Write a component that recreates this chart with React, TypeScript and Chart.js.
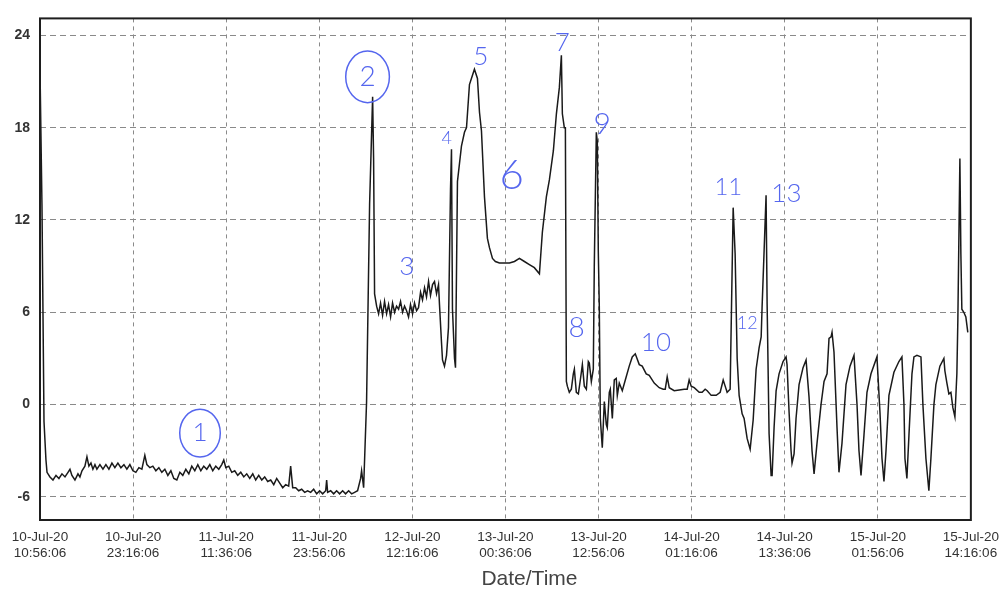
import React, { useEffect, useRef } from "react";
import { Chart, registerables } from "chart.js";

Chart.register(...registerables);

// Sample times (hours after 10-Jul-20 10:56:06) and readings
const hours = [
  0.0, 0.26, 0.53, 0.79, 0.93, 1.32, 1.72, 2.12, 2.51, 2.91, 3.31, 3.71, 3.97, 4.23, 4.63, 5.03, 5.29, 5.56, 5.95, 6.22,
  6.48, 6.75, 7.01, 7.28, 7.54, 7.94, 8.34, 8.73, 9.13, 9.53, 9.92, 10.32, 10.72, 11.12, 11.51, 11.91, 12.31, 12.7, 13.1, 13.5,
  13.89, 14.16, 14.56, 14.95, 15.35, 15.75, 16.14, 16.54, 16.94, 17.34, 17.73, 18.13, 18.53, 18.92, 19.32, 19.72, 20.11, 20.51, 20.91, 21.31,
  21.7, 22.1, 22.5, 22.89, 23.29, 23.69, 24.08, 24.35, 24.62, 25.01, 25.41, 25.8, 26.2, 26.6, 27.0, 27.39, 27.79, 28.19, 28.58, 28.98,
  29.38, 29.77, 30.17, 30.57, 30.97, 31.36, 31.76, 32.16, 32.55, 32.95, 33.21, 33.48, 33.88, 34.27, 34.67, 35.07, 35.46, 35.86, 36.26, 36.66,
  37.05, 37.45, 37.85, 37.98, 38.11, 38.51, 38.91, 39.3, 39.7, 40.1, 40.49, 40.89, 41.29, 41.68, 42.08, 42.48, 42.61, 42.88, 43.27, 43.67,
  44.07, 44.2, 44.33, 44.6, 44.86, 45.12, 45.39, 45.65, 45.92, 46.18, 46.45, 46.71, 46.98, 47.24, 47.51, 47.77, 48.04, 48.3, 48.57, 48.83,
  49.09, 49.36, 49.62, 49.89, 50.15, 50.42, 50.68, 50.95, 51.21, 51.48, 51.74, 52.01, 52.27, 52.54, 52.8, 52.93, 53.2, 53.33, 53.59, 53.86,
  54.12, 54.39, 54.52, 54.65, 54.92, 55.05, 55.31, 55.84, 56.24, 56.51, 56.9, 57.3, 57.56, 57.96, 58.23, 58.49, 58.89, 59.28, 59.55, 59.95,
  60.34, 60.87, 61.53, 62.2, 62.86, 63.52, 64.18, 64.84, 65.5, 66.17, 66.56, 67.09, 67.49, 68.02, 68.42, 68.81, 69.08, 69.21, 69.47, 69.61,
  69.74, 69.87, 70.13, 70.4, 70.66, 70.8, 71.06, 71.33, 71.59, 71.86, 72.12, 72.39, 72.65, 72.78, 73.05, 73.31, 73.44, 73.71, 73.84, 73.97,
  74.1, 74.24, 74.5, 74.77, 75.03, 75.16, 75.43, 75.56, 75.83, 76.09, 76.35, 76.49, 76.75, 77.15, 77.55, 78.07, 78.47, 78.87, 79.4, 79.79,
  80.32, 80.72, 81.38, 82.04, 82.57, 82.84, 83.1, 83.37, 84.03, 84.69, 85.35, 85.75, 86.01, 86.28, 86.68, 87.34, 87.73, 88.13, 88.4, 88.93,
  89.59, 90.12, 90.52, 90.78, 91.04, 91.44, 91.84, 92.1, 92.37, 92.63, 93.03, 93.29, 93.69, 94.09, 94.49, 94.88, 95.28, 95.55, 95.67, 95.94,
  96.2, 96.34, 96.6, 96.87, 97.0, 97.26, 97.53, 97.92, 98.45, 98.85, 98.98, 99.25, 99.51, 99.64, 99.91, 100.17, 100.57, 101.1, 101.5, 101.89,
  102.29, 102.56, 102.95, 103.48, 103.88, 104.28, 104.54, 104.81, 104.94, 105.2, 105.6, 105.86, 106.26, 106.79, 107.32, 107.85, 108.25, 108.51, 108.78, 109.17,
  109.57, 110.1, 110.89, 111.29, 111.56, 111.82, 112.09, 112.48, 113.14, 113.8, 114.2, 114.47, 114.6, 114.86, 115.13, 115.53, 115.79, 116.19, 116.72, 116.98,
  117.38, 117.77, 118.04, 118.44, 118.7, 119.23, 119.76, 119.89, 120.16, 120.42, 120.69, 120.95, 121.22, 121.48, 121.61, 121.88, 122.01, 122.14, 122.4, 122.67,
  122.93,
];

const values = [
  21.8, 13.0, -1.1, -3.6, -4.4, -4.7, -4.9, -4.6, -4.8, -4.5, -4.7, -4.4, -4.2, -4.6, -4.9, -4.5, -4.7, -4.3, -4.0, -3.4,
  -4.0, -3.8, -4.2, -3.9, -4.2, -3.9, -4.2, -3.9, -4.2, -3.8, -4.1, -3.8, -4.1, -3.9, -4.2, -3.9, -4.3, -4.4, -4.1, -4.2,
  -3.3, -3.9, -4.1, -4.0, -4.3, -4.1, -4.4, -4.2, -4.6, -4.3, -4.8, -4.9, -4.4, -4.6, -4.2, -4.5, -4.0, -4.3, -3.9, -4.3,
  -4.0, -4.2, -3.9, -4.3, -4.0, -4.2, -3.9, -3.6, -4.1, -4.0, -4.4, -4.3, -4.6, -4.4, -4.7, -4.5, -4.8, -4.5, -4.9, -4.6,
  -4.9, -4.7, -5.0, -4.9, -5.2, -4.8, -5.1, -5.4, -5.2, -5.3, -4.0, -5.4, -5.4, -5.6, -5.5, -5.7, -5.6, -5.7, -5.5, -5.8,
  -5.6, -5.8, -5.6, -4.9, -5.7, -5.6, -5.8, -5.6, -5.8, -5.6, -5.8, -5.6, -5.8, -5.7, -5.6, -4.8, -4.3, -5.4, 0.2, 13.0,
  20.0, 16.0, 7.2, 6.4, 5.9, 6.6, 5.8, 6.7, 5.9, 6.5, 5.7, 6.6, 6.0, 6.4, 6.2, 6.7, 6.0, 6.4, 6.1, 5.7,
  6.5, 5.9, 6.6, 6.1, 6.3, 7.3, 6.8, 7.6, 7.0, 8.0, 7.1, 7.8, 8.0, 7.2, 7.8, 6.5, 4.0, 2.9, 2.5, 3.2,
  5.0, 14.0, 16.6, 6.2, 3.0, 2.4, 14.5, 16.8, 17.7, 18.0, 20.8, 21.4, 21.8, 21.2, 19.0, 17.8, 13.5, 10.8, 10.2, 9.5,
  9.3, 9.2, 9.2, 9.2, 9.3, 9.5, 9.3, 9.1, 8.9, 8.5, 11.2, 13.5, 14.6, 16.5, 18.9, 20.6, 22.7, 18.9, 18.0, 18.0,
  1.5, 1.2, 0.8, 1.0, 2.0, 2.3, 0.8, 0.7, 1.6, 2.6, 1.2, 1.0, 2.8, 2.7, 1.5, 2.3, 9.0, 17.7, 17.1, 10.0,
  6.5, -0.9, -2.8, 0.2, -1.3, -1.5, 0.8, 1.0, -0.9, 1.6, 1.7, 0.6, 1.4, 0.9, 1.6, 2.5, 3.1, 3.3, 2.6, 2.5,
  2.0, 1.9, 1.4, 1.1, 1.0, 1.0, 1.8, 1.1, 0.9, 0.95, 1.0, 1.0, 1.6, 1.2, 1.1, 0.8, 0.8, 1.0, 0.9, 0.6,
  0.6, 0.8, 1.6, 1.2, 0.8, 1.0, 12.8, 9.8, 3.0, 0.6, -0.6, -0.9, -2.2, -2.9, -1.0, 2.3, 3.7, 4.4, 6.3, 10.0,
  13.6, 6.5, -1.9, -4.6, -4.6, -1.5, 0.9, 2.0, 2.8, 3.1, 2.6, -0.5, -3.0, -3.8, -3.2, -0.9, 1.3, 2.4, 2.9, 0.5,
  -3.0, -4.5, -2.5, 0.0, 1.5, 2.0, 4.3, 4.4, 4.7, 3.4, -1.5, -4.4, -2.5, 1.3, 2.5, 3.2, 0.0, -3.0, -4.6, -2.0,
  0.8, 2.0, 3.1, -0.5, -3.5, -5.0, -3.0, 0.6, 2.1, 2.8, 3.1, 0.0, -3.5, -4.8, -2.0, 2.0, 3.1, 3.2, 3.1, 0.0,
  -3.5, -5.6, -3.5, 0.0, 1.3, 2.5, 3.0, 2.2, 1.4, 0.7, 0.8, -0.2, -0.8, 2.0, 5.5, 16.0, 9.8, 6.2, 6.0, 5.7,
  4.7,
];

// Axis tick labels
const tickDates = ["10-Jul-20", "10-Jul-20", "11-Jul-20", "11-Jul-20", "12-Jul-20", "13-Jul-20", "13-Jul-20", "14-Jul-20", "14-Jul-20", "15-Jul-20", "15-Jul-20"];
const tickTimes = ["10:56:06", "23:16:06", "11:36:06", "23:56:06", "12:16:06", "00:36:06", "12:56:06", "01:16:06", "13:36:06", "01:56:06", "14:16:06"];
const TICK_STEP_HOURS = 12 + 20 / 60;
const yTickValues = [-6, 0, 6, 12, 18, 24];
const X_TITLE = "Date/Time";

// Handwritten notes (blue) placed at data positions
const noteLabels = ["1", "2", "3", "4", "5", "6", "7", "8", "9", "10", "11", "12", "13"];
const noteHours = [21.2, 43.4, 48.6, 53.9, 58.4, 62.5, 69.2, 71.1, 74.5, 81.6, 91.2, 93.7, 98.9];
const noteValues = [-1.85, 21.3, 9.0, 17.3, 22.6, 14.9, 23.5, 5.0, 18.2, 4.0, 14.1, 5.3, 13.7];
const noteSizes = [26, 28, 26, 18, 26, 42, 26, 28, 30, 26, 24, 18, 26];
const noteCircled = [true, true, false, false, false, false, false, false, false, false, false, false, false];

const FONT = "'Liberation Sans', Arial, sans-serif";

export default function App() {
  const canvasRef = useRef<HTMLCanvasElement | null>(null);

  useEffect(() => {
    document.body.style.margin = "0";
    const canvas = canvasRef.current;
    if (!canvas) return;

    const framePlugin = {
      id: "frame",
      afterDatasetsDraw(chart: any) {
        const { ctx, chartArea } = chart;
        ctx.save();
        ctx.strokeStyle = "#1e1e1e";
        ctx.lineWidth = 2;
        ctx.strokeRect(chartArea.left, chartArea.top, chartArea.right - chartArea.left, chartArea.bottom - chartArea.top);
        ctx.restore();
      },
    };

    const titlePlugin = {
      id: "xtitle",
      afterDraw(chart: any) {
        const { ctx, chartArea } = chart;
        ctx.save();
        ctx.fillStyle = "#444";
        ctx.font = `21px ${FONT}`;
        ctx.textAlign = "center";
        ctx.textBaseline = "middle";
        ctx.fillText(X_TITLE, (chartArea.left + chartArea.right) / 2 + 24, chart.height - 13);
        ctx.restore();
      },
    };

    const notesPlugin = {
      id: "notes",
      afterDraw(chart: any) {
        const { ctx } = chart;
        const xs = chart.scales.x;
        const ys = chart.scales.y;
        ctx.save();
        ctx.fillStyle = "#5566ee";
        ctx.strokeStyle = "#5566ee";
        ctx.textAlign = "center";
        ctx.textBaseline = "middle";
        noteLabels.forEach((t, i) => {
          const px = xs.getPixelForValue(noteHours[i]);
          const py = ys.getPixelForValue(noteValues[i]);
          ctx.font = `300 ${noteSizes[i]}px Lato, "DejaVu Sans", sans-serif`;
          ctx.fillText(t, px, py);
          if (noteCircled[i]) {
            ctx.lineWidth = 1.5;
            ctx.beginPath();
            ctx.ellipse(px, py, noteSizes[i] * 0.78, noteSizes[i] * 0.92, 0, 0, Math.PI * 2);
            ctx.stroke();
          }
        });
        ctx.restore();
      },
    };

    const chart = new Chart(canvas, {
      type: "line",
      data: {
        datasets: [
          {
            data: hours.map((h, i) => ({ x: h, y: values[i] })),
            borderColor: "#1a1a1a",
            borderWidth: 1.5,
            pointRadius: 0,
            tension: 0,
            fill: false,
          },
        ],
      },
      options: {
        animation: false,
        responsive: false,
        events: [],
        layout: { padding: { left: 0, top: 12, right: 36, bottom: 0 } },
        plugins: { legend: { display: false }, tooltip: { enabled: false } },
        scales: {
          x: {
            type: "linear",
            min: 0,
            max: TICK_STEP_HOURS * 10,
            afterBuildTicks: (s: any) => {
              s.ticks = tickDates.map((_, i) => ({ value: i * TICK_STEP_HOURS }));
            },
            afterFit: (s: any) => {
              s.height = 72;
            },
            ticks: {
              autoSkip: false,
              maxRotation: 0,
              padding: 9,
              color: "#333",
              font: { family: FONT, size: 13.5, lineHeight: 1.2 },
              callback: (_v: any, i: number) => [tickDates[i], tickTimes[i]],
            },
            grid: { color: "#8a8a8a", lineWidth: 1, drawTicks: false },
            border: { display: false, dash: [4, 4] },
          },
          y: {
            type: "linear",
            min: -7.5,
            max: 25.1,
            afterBuildTicks: (s: any) => {
              s.ticks = yTickValues.map((v) => ({ value: v }));
            },
            afterFit: (s: any) => {
              s.width = 40;
            },
            ticks: {
              padding: 10,
              color: "#333",
              font: { family: FONT, size: 14, weight: "bold" },
              callback: (v: any) => String(v),
            },
            grid: { color: "#8a8a8a", lineWidth: 1, drawTicks: false },
            border: { display: false, dash: [6, 4] },
          },
        },
      },
      plugins: [framePlugin, notesPlugin, titlePlugin],
    });

    return () => chart.destroy();
  }, []);

  return <canvas ref={canvasRef} width={1008} height={592} style={{ display: "block" }} />;
}
